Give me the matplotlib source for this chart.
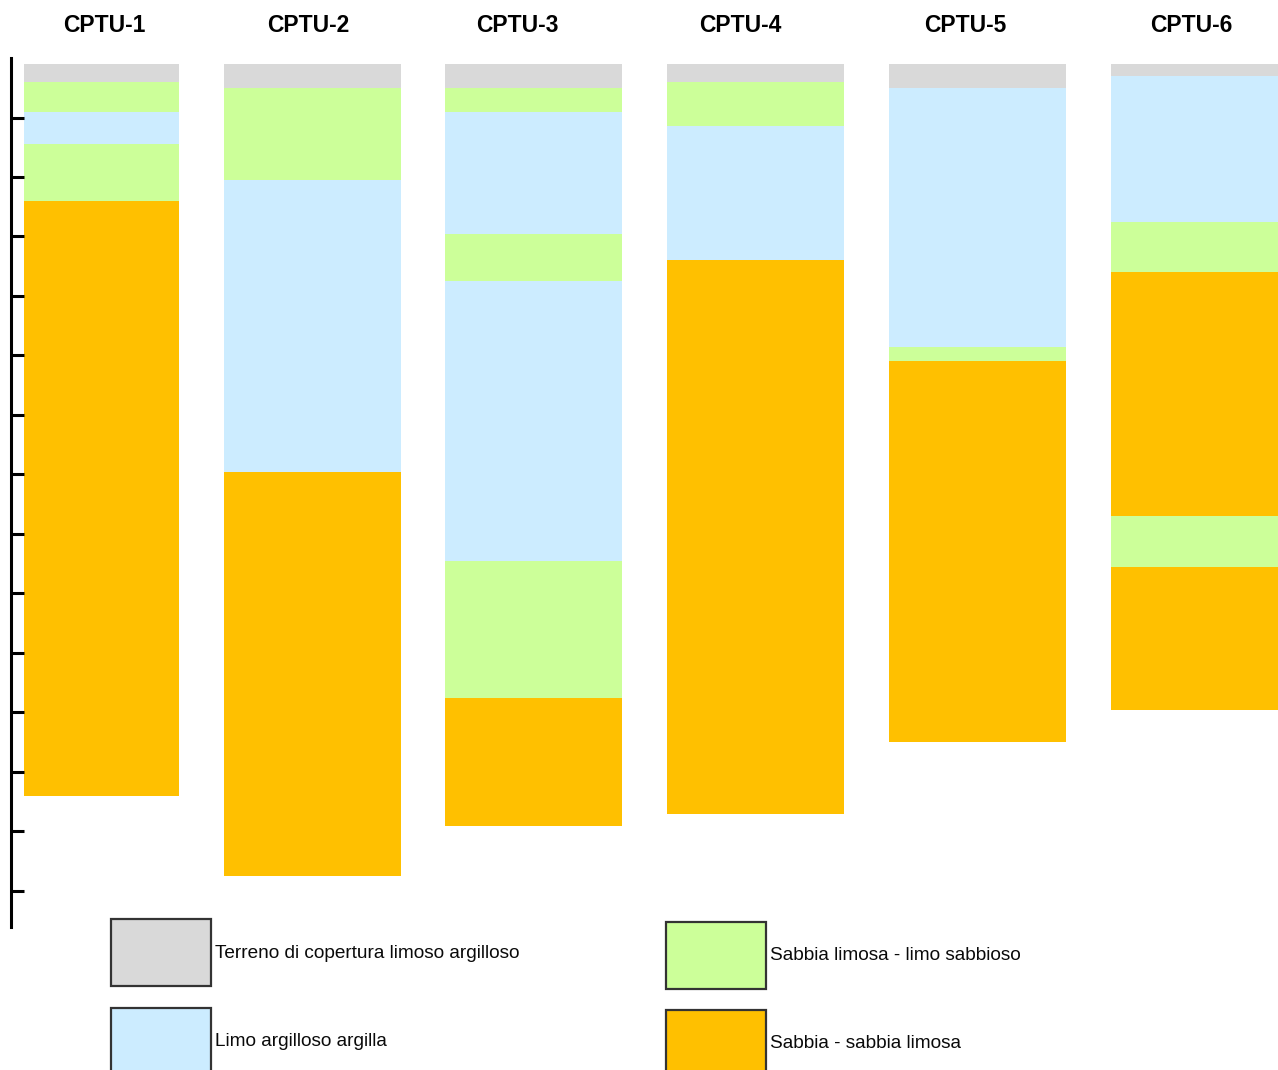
import matplotlib
matplotlib.use("Agg")
import matplotlib.pyplot as plt
from matplotlib.patches import Rectangle

plt.rcParams['font.family'] = ['Liberation Sans', 'DejaVu Sans']

# soil classes
classes = ["Terreno di copertura limoso argilloso", "Limo argilloso argilla",
           "Sabbia limosa - limo sabbioso", "Sabbia - sabbia limosa"]
colors = ["#D9D9D9", "#CCECFF", "#CCFF99", "#FFC000"]

# boreholes: layer tops/bottoms (m) and class index of each layer
names = ["CPTU-1", "CPTU-2", "CPTU-3", "CPTU-4", "CPTU-5", "CPTU-6"]
cptu1_depths = [0.2, 0.8, 1.8, 2.9, 4.8, 24.8]
cptu1_soil = [0, 2, 1, 2, 3]
cptu2_depths = [0.2, 1.0, 4.1, 13.9, 27.5]
cptu2_soil = [0, 2, 1, 3]
cptu3_depths = [0.2, 1.0, 1.8, 5.9, 7.5, 16.9, 21.5, 25.8]
cptu3_soil = [0, 2, 1, 2, 1, 2, 3]
cptu4_depths = [0.2, 0.8, 2.3, 6.8, 25.4]
cptu4_soil = [0, 2, 1, 3]
cptu5_depths = [0.2, 1.0, 9.7, 10.2, 23.0]
cptu5_soil = [0, 1, 2, 3]
cptu6_depths = [0.2, 0.6, 5.5, 7.2, 15.4, 17.1, 21.9]
cptu6_soil = [0, 1, 2, 3, 2, 3]

depths = [cptu1_depths, cptu2_depths, cptu3_depths, cptu4_depths, cptu5_depths, cptu6_depths]
soils = [cptu1_soil, cptu2_soil, cptu3_soil, cptu4_soil, cptu5_soil, cptu6_soil]

W, H = 1278, 1070
fig = plt.figure(figsize=(W / 100, H / 100), dpi=100)

# main axes: pixel-like x, depth in m on y
ax = fig.add_axes([11 / W, 1 - 927 / H, 1 - 11 / W, (927 - 58) / H])
ax.set_xlim(0, W - 11)
ax.set_ylim((927 - 58) / 29.75, 0)

col_left = [13, 213, 434, 656, 878, 1100]
col_width = [155, 177, 177, 177, 177, 177]
title_x = [93, 297, 506, 729, 954, 1180]

for i, name in enumerate(names):
    d = depths[i]
    for j, s in enumerate(soils[i]):
        ax.bar(col_left[i], d[j + 1] - d[j], bottom=d[j], width=col_width[i],
               align='edge', color=colors[s], linewidth=0)
    ax.text(title_x[i], -1.1, name, ha='center', va='center',
            fontsize=16.5, fontweight='bold', clip_on=False)

for sp in ['top', 'right', 'bottom']:
    ax.spines[sp].set_visible(False)
ax.spines['left'].set_linewidth(2.2)
ax.set_xticks([])
ax.set_yticks(range(2, 29, 2))
ax.tick_params(axis='y', direction='in', length=9, width=2.2, labelleft=False)

# legend drawn in pixel coordinates
lax = fig.add_axes([0, 0, 1, 1])
lax.set_xlim(0, W)
lax.set_ylim(H, 0)
lax.axis('off')
box_x = [111, 111, 666, 666]
box_y = [919, 1008, 922, 1010]
for k in range(len(classes)):
    lax.add_patch(Rectangle((box_x[k], box_y[k]), 100, 67, facecolor=colors[k],
                            edgecolor='#333333', linewidth=1.6))
    lax.text(box_x[k] + 104, box_y[k] + 34, classes[k], ha='left', va='center',
             fontsize=13.7, color='#0a0a0a')

fig.savefig("out.png", dpi=100)
